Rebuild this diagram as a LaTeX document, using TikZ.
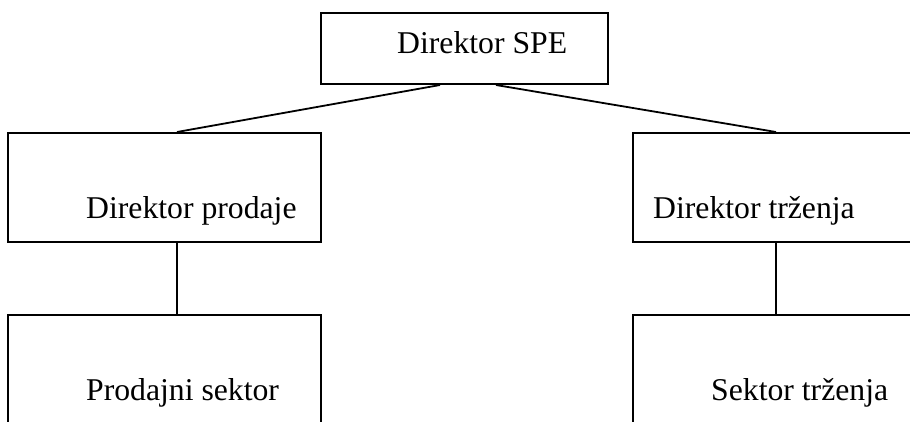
\documentclass[tikz,border=0pt]{standalone}
\usepackage{fontspec}
\setmainfont{Liberation Serif}
\begin{document}
\begin{tikzpicture}[x=1pt,y=-1pt,
  orgbox/.style={draw, line width=2pt, rectangle, inner sep=0pt},
  orglabel/.style={anchor=base west, inner sep=0pt, font=\fontsize{31.7}{38}\selectfont},
  link/.style={line width=1.8pt}]
  \clip (0,0) rectangle (910,421);
  % boxes
  \node[orgbox, minimum width=287pt, minimum height=71pt] (spe) at (464.5,48.5) {};
  \node[orgbox, minimum width=313pt, minimum height=109pt] (prod) at (164.5,187.5) {};
  \node[orgbox, minimum width=327pt, minimum height=109pt] (trz) at (796.5,187.5) {};
  \node[orgbox, minimum width=313pt, minimum height=165pt] (psek) at (164.5,397.5) {};
  \node[orgbox, minimum width=327pt, minimum height=165pt] (strz) at (796.5,397.5) {};
  % labels
  \node[orglabel] (speL) at (397,53) {Direktor SPE};
  \node[orglabel] (prodL) at (86,218) {Direktor prodaje};
  \node[orglabel] (trzL) at (653,218) {Direktor tržen\-ja};
  \node[orglabel] (psekL) at (86,400) {Prodajni sektor};
  \node[orglabel] (strzL) at (711,400) {Sektor tržen\-ja};
  % connector end points on box borders
  \coordinate (speA) at (spe.south -| 440,0);
  \coordinate (speB) at (spe.south -| 496,0);
  \coordinate (prodT) at (prod.north -| 177,0);
  \coordinate (prodB) at (prod.south -| 177,0);
  \coordinate (psekT) at (psek.north -| 177,0);
  \coordinate (trzT) at (trz.north -| 776,0);
  \coordinate (trzB) at (trz.south -| 776,0);
  \coordinate (strzT) at (strz.north -| 776,0);
  % connectors
  \draw[link] (speA) -- (prodT);
  \draw[link] (speB) -- (trzT);
  \draw[link] (prodB) -- (psekT);
  \draw[link] (trzB) -- (strzT);
\end{tikzpicture}
\end{document}
